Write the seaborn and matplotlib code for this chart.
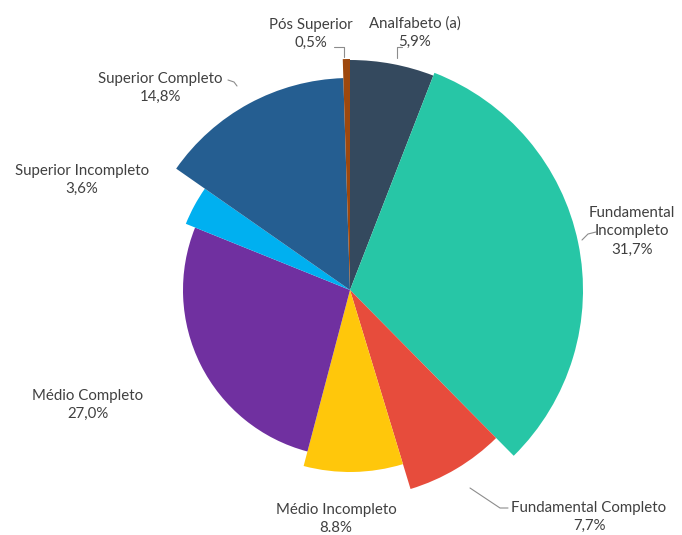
import matplotlib
matplotlib.use('Agg')
import matplotlib.pyplot as plt
import seaborn as sns

sns.set_theme(style='white')
plt.rcParams['font.family'] = ['Lato', 'DejaVu Sans']

# dados
categorias = ['Analfabeto (a)', 'Fundamental\nIncompleto', 'Fundamental Completo',
              'Médio Incompleto', 'Médio Completo', 'Superior Incompleto',
              'Superior Completo', 'Pós Superior']
valores = [5.9, 31.7, 7.7, 8.8, 27.0, 3.6, 14.8, 0.5]
rotulos_pct = ['5,9%', '31,7%', '7,7%', '8.8%', '27,0%', '3,6%', '14,8%', '0,5%']
raios = [230, 233, 208, 182, 167, 177, 212, 231]
cores = ['#34495E', '#27C6A6', '#E74C3C', '#FFC70B', '#7030A0', '#00B0F0', '#255E91', '#9E480E']

# posicao dos rotulos (pixels da imagem) e linhas guia
pos_rotulos = [(415, 33), (632, 231), (589, 517), (336, 519), (88, 405), (82, 180), (160, 88), (311, 34)]
guias = [
    [(402, 47), (397, 47), (397, 58)],
    [(582, 240), (588, 234), (596, 232)],
    [(470, 488), (500, 508), (508, 508)],
    None,
    None,
    None,
    [(228, 80), (234, 82), (237, 86)],
    [(334, 47), (344, 47), (344, 57)],
]

W, H = 682, 535
fig = plt.figure(figsize=(6.82, 5.35), dpi=100)
ax = fig.add_axes([0, 0, 1, 1])

cx, cy = 350, H - 290
wedges, _ = ax.pie(valores, colors=cores, startangle=90, counterclock=False,
                   center=(cx, cy), radius=1, wedgeprops=dict(linewidth=0))
for w, r in zip(wedges, raios):
    w.set_radius(r)

for cat, pct, (x, y) in zip(categorias, rotulos_pct, pos_rotulos):
    ax.text(x, H - y, cat + '\n' + pct, ha='center', va='center',
            fontsize=10.8, color='#404040', linespacing=1.4)

for g in guias:
    if g is None:
        continue
    xs = [p[0] for p in g]
    ys = [H - p[1] for p in g]
    ax.plot(xs, ys, color='#8c8c8c', lw=0.8)

ax.set_xlim(0, W)
ax.set_ylim(0, H)
ax.set_aspect('equal')
ax.axis('off')

fig.savefig('out.png', dpi=100)
